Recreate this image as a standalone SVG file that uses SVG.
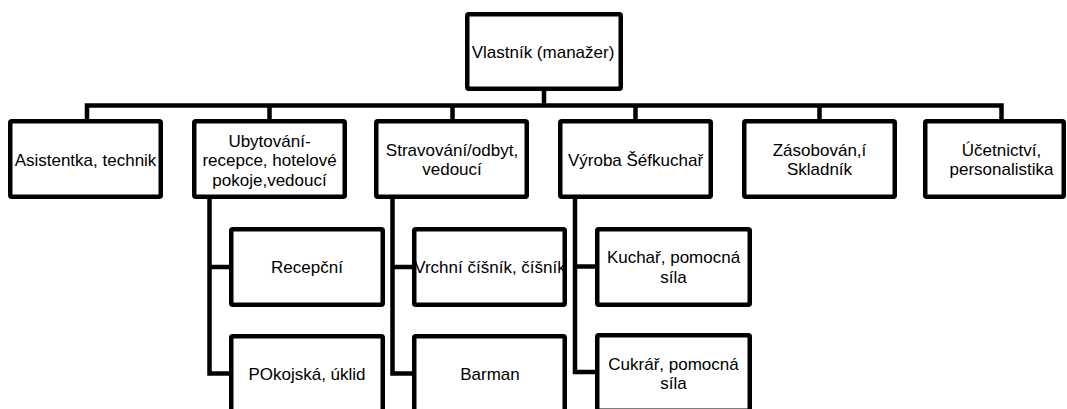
<svg xmlns="http://www.w3.org/2000/svg" width="1067" height="409" viewBox="0 0 1067 409">
<style>
.box{fill:#fff;stroke:#000;stroke-width:4.5;stroke-linejoin:round}
.ln{fill:none;stroke:#000;stroke-width:4.5;stroke-linejoin:miter;stroke-linecap:butt}
text{font-family:"Liberation Sans",Arial,sans-serif;font-size:17px;fill:#000;text-anchor:middle}
</style>
<rect width="1067" height="409" fill="#fff"/>
<g id="connectors">
<path class="ln" d="M544,90 V105.5"/>
<path class="ln" d="M87,119 V105.5 H1001.5 V119"/>
<path class="ln" d="M269.5,105.5 V119"/>
<path class="ln" d="M452.5,105.5 V119"/>
<path class="ln" d="M635.5,105.5 V119"/>
<path class="ln" d="M819.5,105.5 V119"/>
<path class="ln" d="M209.5,199 V373.5 H229"/>
<path class="ln" d="M209.5,267 H229"/>
<path class="ln" d="M392.5,199 V373.5 H412"/>
<path class="ln" d="M392.5,267 H412"/>
<path class="ln" d="M575,199 V372 H595"/>
<path class="ln" d="M575,266.5 H595"/>
</g>
<g id="n-vlastnik">
<rect class="box" x="467.25" y="14.25" width="153.5" height="74.5" rx="1.5"/>
<text x="543" y="58">Vlastník (manažer)</text>
</g>
<g id="n-asistentka">
<rect class="box" x="10.25" y="121.25" width="150.5" height="75.5" rx="1.5"/>
<text x="85.5" y="166">Asistentka, technik</text>
</g>
<g id="n-ubytovani">
<rect class="box" x="194.25" y="121.25" width="150.5" height="75.5" rx="1.5"/>
<text x="269.5" y="146.5">Ubytování-</text>
<text x="269.5" y="166">recepce, hotelové</text>
<text x="269.5" y="185.5">pokoje,vedoucí</text>
</g>
<g id="n-stravovani">
<rect class="box" x="376.25" y="121.25" width="150.5" height="75.5" rx="1.5"/>
<text x="452" y="155.5">Stravování/odbyt,</text>
<text x="452" y="175">vedoucí</text>
</g>
<g id="n-vyroba">
<rect class="box" x="560.25" y="121.25" width="150.5" height="75.5" rx="1.5"/>
<text x="635.5" y="166">Výroba Šéfkuchař</text>
</g>
<g id="n-zasobovani">
<rect class="box" x="744.25" y="121.25" width="150.5" height="75.5" rx="1.5"/>
<text x="819.5" y="155.5">Zásobován,í</text>
<text x="819.5" y="175">Skladník</text>
</g>
<g id="n-ucetnictvi">
<rect class="box" x="925.25" y="121.25" width="138.5" height="75.5" rx="1.5"/>
<text x="1001.5" y="155.5">Účetnictví,</text>
<text x="1001.5" y="175">personalistika</text>
</g>
<g id="n-recepcni">
<rect class="box" x="231.25" y="229.25" width="151.5" height="75.5" rx="1.5"/>
<text x="307" y="273">Recepční</text>
</g>
<g id="n-pokojska">
<rect class="box" x="231.25" y="336.25" width="151.5" height="75.5" rx="1.5"/>
<text x="307" y="380">POkojská, úklid</text>
</g>
<g id="n-vrchni">
<rect class="box" x="414.25" y="229.25" width="150.5" height="75.5" rx="1.5"/>
<text x="490" y="273">Vrchní číšník, číšník</text>
</g>
<g id="n-barman">
<rect class="box" x="414.25" y="336.25" width="150.5" height="75.5" rx="1.5"/>
<text x="490" y="380">Barman</text>
</g>
<g id="n-kuchar">
<rect class="box" x="597.25" y="229.25" width="152.5" height="75.5" rx="1.5"/>
<text x="673.5" y="263">Kuchař, pomocná</text>
<text x="673.5" y="283">síla</text>
</g>
<g id="n-cukrar">
<rect class="box" x="597.25" y="335.25" width="152.5" height="75.5" rx="1.5"/>
<text x="673.5" y="370">Cukrář, pomocná</text>
<text x="673.5" y="389">síla</text>
</g>
</svg>
